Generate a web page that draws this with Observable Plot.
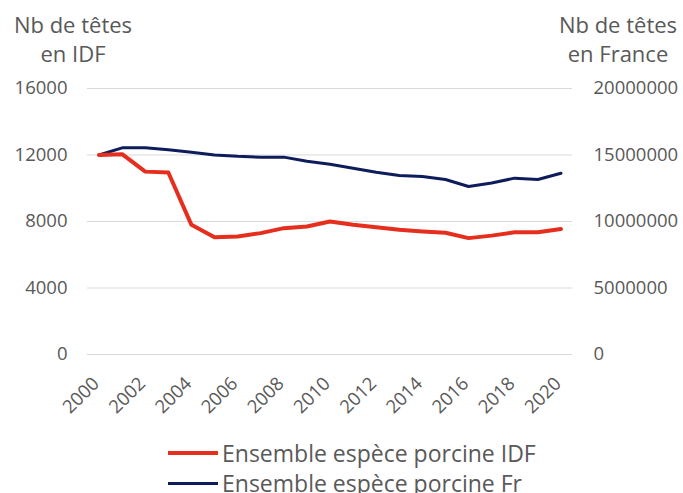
<!DOCTYPE html>
<html>
<head>
<meta charset="utf-8">
<script src="https://cdn.jsdelivr.net/npm/d3@7"></script>
<script src="https://cdn.jsdelivr.net/npm/@observablehq/plot@0.6"></script>
<style>
  body { margin: 0; background: #fff; }
  #wrap { position: relative; width: 683px; height: 493px; font-family: "Open Sans", sans-serif; color: #595959; overflow: hidden; }
  #wrap svg.plot { position: absolute; left: 0; top: 0; }
  .ttl { position: absolute; width: 160px; text-align: center; font-size: 22px; line-height: 29px; white-space: nowrap; }
  .leg { position: absolute; left: 168px; font-size: 23px; line-height: 30px; white-space: nowrap; display: flex; align-items: center; }
  .sw { display: inline-block; width: 50px; margin-right: 4px; }
</style>
</head>
<body>
<div id="wrap">
  <div class="ttl" style="left:-7px; top:10px;">Nb de têtes<br>en IDF</div>
  <div class="ttl" style="left:538px; top:10px;">Nb de têtes<br>en France</div>
  <div class="leg" style="top:438px;"><span class="sw" style="height:4px;background:#E62E1E;"></span>Ensemble espèce porcine IDF</div>
  <div class="leg" style="top:468px;"><span class="sw" style="height:3px;background:#0F1C5C;"></span>Ensemble espèce porcine Fr</div>
</div>
<script>
const years = [2000, 2001, 2002, 2003, 2004, 2005, 2006, 2007, 2008, 2009, 2010,
               2011, 2012, 2013, 2014, 2015, 2016, 2017, 2018, 2019, 2020];
const idf = [12000, 12050, 11000, 10950, 7800, 7050, 7100, 7300, 7600, 7700, 8000,
             7800, 7650, 7500, 7400, 7320, 7000, 7150, 7350, 7350, 7550];
const france = [15000000, 15540000, 15540000, 15400000, 15200000, 15000000, 14900000, 14840000, 14840000, 14530000, 14300000,
                14000000, 13700000, 13460000, 13380000, 13160000, 12630000, 12900000, 13260000, 13160000, 13630000];
const leftTicks = [0, 4000, 8000, 12000, 16000];
const rightTicks = [0, 5000000, 10000000, 15000000, 20000000];
const xTicks = [2000, 2002, 2004, 2006, 2008, 2010, 2012, 2014, 2016, 2018, 2020];
const ratio = rightTicks[rightTicks.length - 1] / leftTicks[leftTicks.length - 1];

const rows = years.map((y, i) => ({year: y, idf: idf[i], fr: france[i]}));

const chart = Plot.plot({
  width: 683,
  height: 436,
  marginLeft: 87,
  marginRight: 111,
  marginTop: 88,
  marginBottom: 82,
  x: {domain: [1999.5, 2020.5]},
  y: {domain: [0, 16000]},
  style: {fontFamily: "Open Sans, sans-serif", fontSize: "18.5px", color: "#595959", background: "transparent", overflow: "visible"},
  marks: [
    Plot.gridY(leftTicks, {stroke: "#d9d9d9", strokeOpacity: 1, strokeWidth: 1}),
    Plot.axisY(leftTicks, {anchor: "left", tickSize: 0, tickPadding: 20, label: null, tickFormat: d => String(d)}),
    Plot.axisY(leftTicks, {anchor: "right", tickSize: 0, tickPadding: 21, label: null, tickFormat: d => String(d * ratio)}),
    Plot.axisX(xTicks, {anchor: "bottom", tickSize: 0, tickPadding: 10, dy: 16, dx: -3, tickRotate: -45, label: null, tickFormat: d => String(d)}),
    Plot.line(rows, {x: "year", y: d => d.fr / ratio, stroke: "#0F1C5C", strokeWidth: 3, strokeLinejoin: "round"}),
    Plot.line(rows, {x: "year", y: "idf", stroke: "#E62E1E", strokeWidth: 4, strokeLinejoin: "round"})
  ]
});
chart.classList.add("plot");
document.getElementById("wrap").prepend(chart);
</script>
</body>
</html>
